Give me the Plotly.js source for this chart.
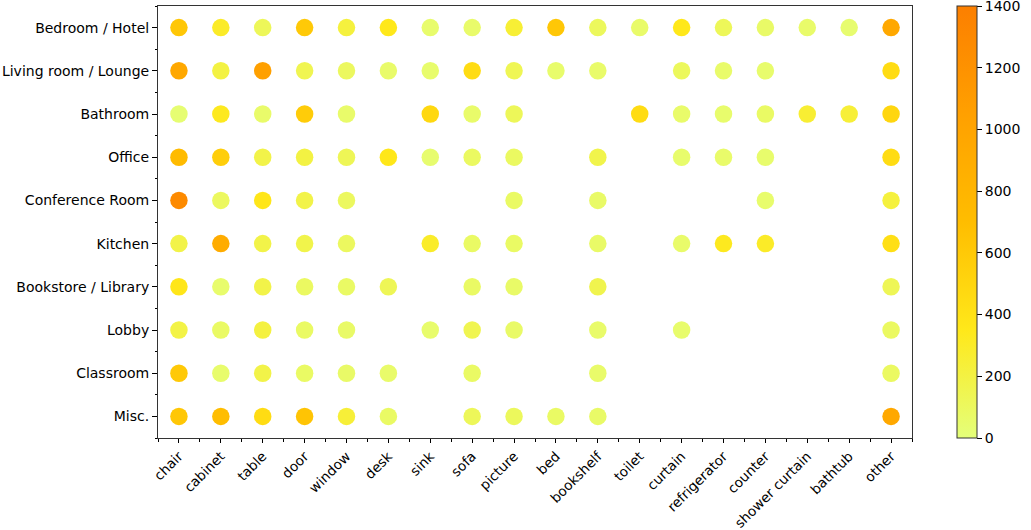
<!DOCTYPE html>
<html>
<head>
<meta charset="utf-8">
<script src="https://cdn.plot.ly/plotly-3.0.1.min.js"></script>
<style>html,body{margin:0;padding:0;background:#fff;}#chart{width:1031px;height:530px;}</style>
</head>
<body>
<div id="chart"></div>
<script>
const objects = ["chair","cabinet","table","door","window","desk","sink","sofa","picture","bed","bookshelf","toilet","curtain","refrigerator","counter","shower curtain","bathtub","other"];
const rooms = ["Bedroom / Hotel","Living room / Lounge","Bathroom","Office","Conference Room","Kitchen","Bookstore / Library","Lobby","Classroom","Misc."];

// counts per room, in the order of `objects` (null = no dot)
const bedroomHotel      = [620, 300, 120, 600, 220, 350,  50,  60, 250, 620, 110,  60, 350, 120,  70,  60,  40, 950];
const livingRoomLounge  = [950, 200,1050, 150, 100,  60,  50, 450, 140,  50,  60, null, 110,  60,  50, null, null, 450];
const bathroom          = [ 30, 330,  60, 580,  60, null, 480,  60, 120, null, null, 450,  60,  50,  80, 260, 240, 500];
const office            = [720, 560, 180, 200, 130, 360,  40,  90,  90, null, 170, null,  50,  60,  50, null, null, 450];
const conferenceRoom    = [1280,100, 370, 180, 100, null, null, null,  80, null,  70, null, null, null,  50, null, null, 220];
const kitchen           = [180, 900, 180, 170, 100, null, 290,  80,  80, null,  70, null,  60, 330, 300, null, null, 420];
const bookstoreLibrary  = [370,  50, 180,  90,  80, 130, null,  80,  70, null, 160, null, null, null, null, null, null, 130];
const lobby             = [190,  80, 210,  80,  70, null,  50, 150,  70, null,  60, null,  50, null, null, null, null,  90];
const classroom         = [600,  50, 180,  80,  70,  60, null,  80, null, null,  60, null, null, null, null, null, null,  90];
const misc              = [620, 700, 450, 640, 240,  80, null, 120, 110,  80,  70, null, null, null, null, null, null, 950];

const matrix = [bedroomHotel, livingRoomLounge, bathroom, office, conferenceRoom, kitchen, bookstoreLibrary, lobby, classroom, misc];
const colorbarTicks = [0, 200, 400, 600, 800, 1000, 1200, 1400];

const xs = [], ys = [], cs = [];
matrix.forEach((row, ri) => {
  row.forEach((v, ci) => {
    if (v !== null) { xs.push(ci); ys.push(ri); cs.push(v); }
  });
});

const wistia = [
  [0.0, "rgb(228,255,122)"],
  [0.25, "rgb(255,232,26)"],
  [0.5, "rgb(255,189,0)"],
  [0.75, "rgb(255,160,0)"],
  [1.0, "rgb(252,127,0)"]
];

const CMAX = 1400;
const trace = {
  type: "scatter",
  mode: "markers",
  x: xs, y: ys,
  hoverinfo: "text",
  text: cs.map((v, i) => rooms[ys[i]] + " / " + objects[xs[i]] + ": " + v),
  marker: {
    size: 17.5,
    color: cs,
    cmin: 0, cmax: CMAX,
    colorscale: wistia,
    line: {width: 0},
    colorbar: {
      x: 1.06, xanchor: "left", xpad: 0,
      y: 0.5, yanchor: "middle", ypad: 0,
      len: 1, lenmode: "fraction",
      thickness: 20,
      outlinewidth: 1, outlinecolor: "#333",
      tickmode: "array",
      tickvals: colorbarTicks,
      ticklabeloverflow: "allow",
      ticks: "outside", ticklen: 5, tickcolor: "#000",
      tickfont: {family: "DejaVu Sans", size: 14, color: "#000"}
    }
  }
};

const fontBase = {family: "DejaVu Sans", size: 14, color: "#000"};

const layout = {
  width: 1031, height: 530,
  margin: {l: 158, r: 119, t: 6, b: 92},
  paper_bgcolor: "#fff", plot_bgcolor: "#fff",
  showlegend: false,
  font: fontBase,
  xaxis: {
    range: [-0.5, 17.5],
    tickmode: "array",
    tickvals: objects.map((_, i) => i),
    ticktext: objects,
    tickangle: -45,
    ticks: "outside", ticklen: 4, tickcolor: "#000", tickwidth: 1,
    minor: {tickmode: "linear", tick0: 0.5, dtick: 1, ticks: "outside", ticklen: 2.5, tickcolor: "#000", showgrid: false},
    showgrid: false, zeroline: false,
    showline: true, mirror: true, linecolor: "#333", linewidth: 1,
    tickfont: {family: "DejaVu Sans", size: 13.6, color: "#000"}
  },
  yaxis: {
    range: [9.5, -0.5],
    tickmode: "array",
    tickvals: rooms.map((_, i) => i),
    ticktext: rooms,
    ticks: "outside", ticklen: 5, tickcolor: "#000", tickwidth: 1,
    minor: {tickmode: "linear", tick0: 0.5, dtick: 1, ticks: "outside", ticklen: 2.5, tickcolor: "#000", showgrid: false},
    showgrid: false, zeroline: false,
    showline: true, mirror: true, linecolor: "#333", linewidth: 1,
    tickfont: fontBase
  }
};

Plotly.newPlot("chart", [trace], layout, {displayModeBar: false, staticPlot: true});
</script>
</body>
</html>
